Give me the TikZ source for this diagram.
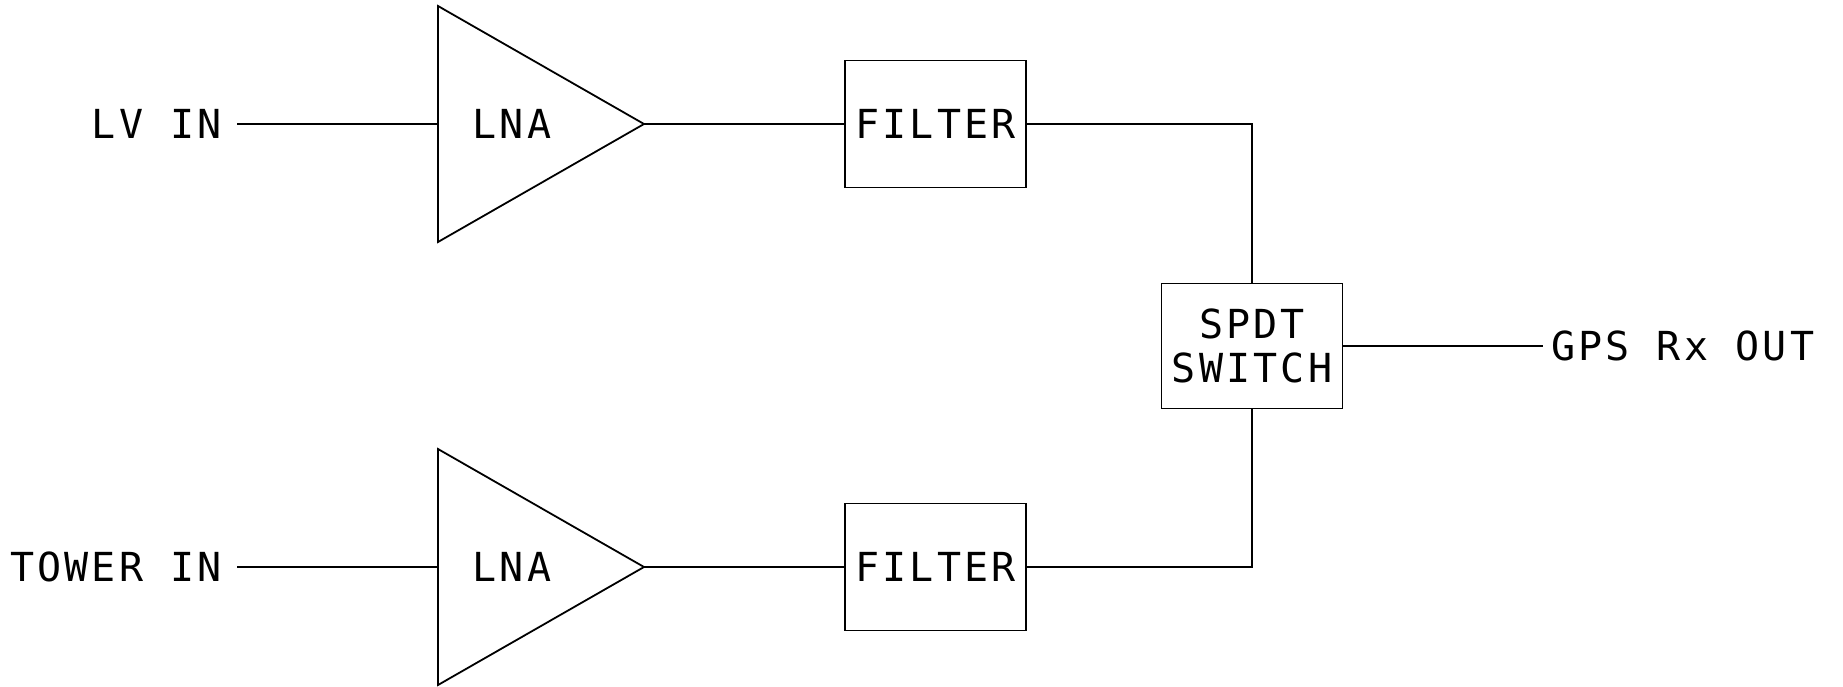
\documentclass[tikz,border=0pt]{standalone}
\usepackage{fontspec}
\newfontfamily\plotfont[LetterSpace=8]{DejaVu Sans Mono}
\usetikzlibrary{positioning}
\tikzset{
  blk/.style={draw, minimum width=181pt, minimum height=127pt, inner sep=0pt, outer sep=0pt,
    font=\plotfont\fontsize{40}{44}\selectfont, align=center},
  lbl/.style={inner sep=0pt, outer sep=0pt, font=\plotfont\fontsize{40}{44}\selectfont},
  amp/.style={line join=miter},
}
\begin{document}
\begin{tikzpicture}[x=1pt,y=-1pt,line width=1.8pt]
\useasboundingbox (0,0) rectangle (1843,687);
% upper chain
\draw[amp] (438,6) -- (644,124) -- (438,242) -- cycle;
\coordinate (lna1in) at (438,124);
\coordinate (lna1out) at (644,124);
\node[lbl] (lna1) at (512,124) {LNA};
\node[blk] (filt1) at (935.5,124) {FILTER};
\node[lbl, anchor=east, inner xsep=15pt] (lvin) at (237,124) {LV IN};
% lower chain
\draw[amp] (438,449) -- (644,567) -- (438,685) -- cycle;
\coordinate (lna2in) at (438,567);
\coordinate (lna2out) at (644,567);
\node[lbl] (lna2) at (512,567) {LNA};
\node[blk] (filt2) at (935.5,567) {FILTER};
\node[lbl, anchor=east, inner xsep=15pt] (towerin) at (237,567) {TOWER IN};
% switch and output
\node[blk, minimum height=125pt] (sw) at (1252,346) {SPDT\\SWITCH};
\coordinate (gpsend) at (1543,346);
\node[lbl, anchor=west, inner xsep=8pt] (gps) at (gpsend) {GPS Rx OUT};
% wires
\draw (lvin) -- (lna1in);
\draw (lna1out) -- (filt1);
\draw (towerin) -- (lna2in);
\draw (lna2out) -- (filt2);
\draw (filt1) -| (sw);
\draw (filt2) -| (sw);
\draw (sw.east) -- (gps.west);
\end{tikzpicture}
\end{document}
